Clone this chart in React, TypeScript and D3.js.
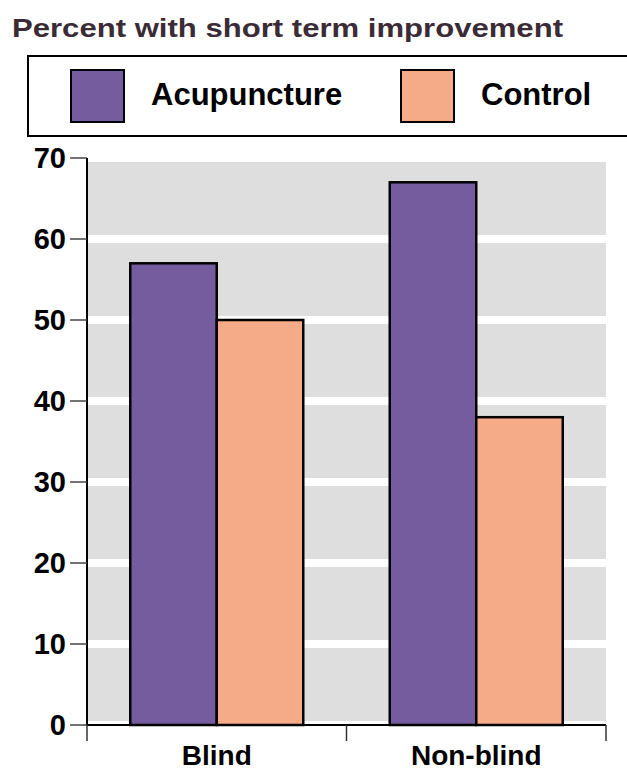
import React from "react";
import * as d3 from "d3";

const categories = ["Blind", "Non-blind"];
const series = ["Acupuncture", "Control"];
const acupunctureValues = [57, 67];
const controlValues = [50, 38];
const yTicks = [0, 10, 20, 30, 40, 50, 60, 70];
const colors = ["#755c9f", "#f5ab87"];

const W = 627;
const H = 771;
const FONT = "'Liberation Sans', Arial, Helvetica, sans-serif";

export default function App() {
  const left = 87;
  const right = 606;
  const top = 158;
  const bottom = 725;
  const y = d3.scaleLinear().domain([0, 70]).range([bottom, top]);
  const x0 = d3.scaleBand<string>().domain(categories).range([left, right]).paddingInner(0).paddingOuter(0);
  const x1 = d3.scaleBand<string>().domain(series).range([0, x0.bandwidth()]).paddingInner(0).paddingOuter(0.5);
  const valuesBySeries = [acupunctureValues, controlValues];

  return (
    <svg width={W} height={H} style={{ position: "absolute", left: 0, top: 0, background: "#fff" }}>
      <text x={12} y={37} fontFamily={FONT} fontWeight="bold" fontSize={26} fill="#3a2b36"
        textLength={551} lengthAdjust="spacingAndGlyphs">
        Percent with short term improvement
      </text>
      {/* legend */}
      <rect x={28} y={56} width={640} height={80} fill="#fff" stroke="#000" strokeWidth={2} />
      {series.map((s, i) => {
        const lx = [71, 401][i];
        return (
          <g key={s}>
            <rect x={lx} y={70} width={53} height={52} fill={colors[i]} stroke="#000" strokeWidth={2} />
            <text x={lx + 80} y={105} fontFamily={FONT} fontWeight="bold" fontSize={31} fill="#000">{s}</text>
          </g>
        );
      })}
      {/* plot background */}
      <rect x={left} y={top + 4} width={right - left} height={bottom - top - 4} fill="#dedede" />
      {yTicks.map((t) => (
        <line key={"g" + t} x1={left} x2={right} y1={y(t)} y2={y(t)} stroke="#fff" strokeWidth={8} />
      ))}
      {/* bars */}
      {categories.map((c, ci) => (
        <g key={c} transform={`translate(${x0(c)},0)`}>
          {series.map((s, si) => {
            const v = valuesBySeries[si][ci];
            return (
              <rect key={s} x={x1(s)} y={y(v)} width={x1.bandwidth()} height={y(0) - y(v)}
                fill={colors[si]} stroke="#000" strokeWidth={2.5} />
            );
          })}
        </g>
      ))}
      {/* y axis */}
      <line x1={left} x2={left} y1={top} y2={bottom} stroke="#000" strokeWidth={2} />
      {yTicks.map((t) => (
        <g key={"t" + t}>
          <line x1={70} x2={left} y1={y(t)} y2={y(t)} stroke="#444" strokeWidth={1.5} />
          <text x={66} y={y(t)} dy="0.36em" textAnchor="end" fontFamily={FONT} fontWeight="bold" fontSize={29} fill="#000">{t}</text>
        </g>
      ))}
      {/* x axis */}
      <line x1={left} x2={right} y1={bottom} y2={bottom} stroke="#000" strokeWidth={2} />
      {[left, x0("Non-blind") as number, right].map((xx, i) => (
        <line key={"xt" + i} x1={xx} x2={xx} y1={bottom} y2={bottom + 16} stroke="#333" strokeWidth={1.5} />
      ))}
      {categories.map((c) => (
        <text key={"l" + c} x={(x0(c) as number) + x0.bandwidth() / 2} y={765} textAnchor="middle"
          fontFamily={FONT} fontWeight="bold" fontSize={28} fill="#000">{c}</text>
      ))}
    </svg>
  );
}
